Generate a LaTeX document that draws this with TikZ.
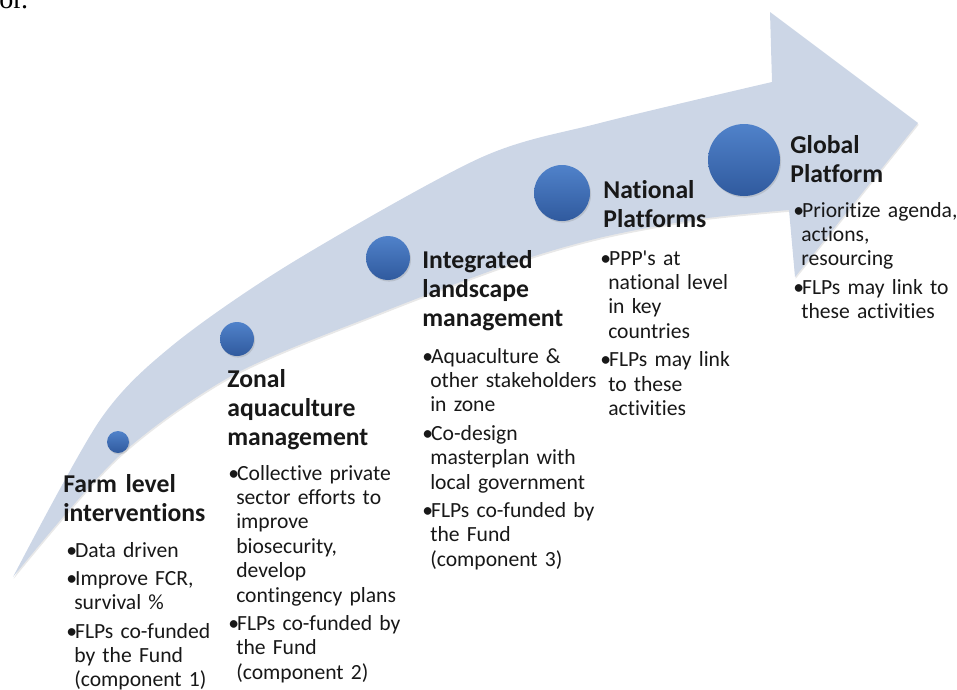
\documentclass[tikz,border=0pt]{standalone}
\usepackage{fontspec}
\setmainfont{Carlito}[Ligatures=NoCommon]
\newfontfamily\bodyserif{Liberation Serif}
\usetikzlibrary{shadows}

\definecolor{bandblue}{RGB}{204,214,230}
\definecolor{balltop}{RGB}{80,130,202}
\definecolor{ballbot}{RGB}{48,90,158}
\definecolor{ink}{RGB}{24,24,24}

% one bullet point with hanging indent, small gap after it
% (lines inside a point are broken with \newline)
\newcommand{\bitem}[1]{\hangindent=4.5pt\hangafter=1\noindent\makebox[5pt][l]{\textbullet}#1\par\vspace{2.2pt}}

\begin{document}
\begin{tikzpicture}[
        x=0.2mm, y=-0.2mm,
        ball/.style={circle, inner sep=0pt, draw=none, top color=balltop, bottom color=ballbot,
            drop shadow={opacity=0.25, shadow xshift=0.6pt, shadow yshift=-0.9pt}},
        stage/.style={anchor=base west, inner sep=0pt, text width=3.8cm, align=left,
            font=\fontsize{14.6}{16.5}\selectfont\bfseries, text=ink},
        points/.style={anchor=base west, inner sep=0pt, text width=3.8cm, align=left,
            font=\fontsize{12.3}{13.9}\selectfont, text=ink}
    ]
    \useasboundingbox (0,0) rectangle (957,689);

    % curved arrow
    \fill[bandblue, drop shadow={opacity=0.18, shadow xshift=0.4pt, shadow yshift=-1pt}]
        plot[smooth] coordinates {(13,577) (100,420) (173,345) (293,262) (480,158) (600,123) (772,82)}
        -- (770,12) -- (918,123) -- (795,277) -- (789,210)
        -- plot[smooth] coordinates {(789,210) (700,219) (603,237) (513,263) (380,313) (233,375) (118,457) (13,577)}
        -- cycle;

    % stage dots
    \node[ball, minimum size=4.4mm]  (farmdot)  at (118,442) {};
    \node[ball, minimum size=6.8mm]  (zonaldot) at (237,339) {};
    \node[ball, minimum size=8.8mm]  (landdot)  at (388,258) {};
    \node[ball, minimum size=11.2mm] (natdot)   at (562,193) {};
    \node[ball, minimum size=14.4mm] (globdot)  at (744,160) {};

    % stage titles and points
    \node[stage] (farmT) at (63,492) {Farm level\\interventions};
    \node[points] (farmP) at (66,557) {%
        \bitem{Data driven}
        \bitem{Improve FCR,\newline survival \%}
        \bitem{FLPs co-funded\newline by the Fund\newline (component 1)}};

    \node[stage] (zonalT) at (227,387) {Zonal\\aquaculture\\management};
    \node[points] (zonalP) at (228,480) {%
        \bitem{Collective private\newline sector efforts to\newline improve\newline biosecurity,\newline develop\newline contingency plans}
        \bitem{FLPs co-funded by\newline the Fund\newline (component 2)}};

    \node[stage] (landT) at (422,268) {Integrated\\landscape\\management};
    \node[points] (landP) at (422,363) {%
        \bitem{Aquaculture \&\newline other stakeholders\newline in zone}
        \bitem{Co-design\newline masterplan with\newline local government}
        \bitem{FLPs co-funded by\newline the Fund\newline (component 3)}};

    \node[stage] (natT) at (603,198) {National\\Platforms};
    \node[points] (natP) at (600,265) {%
        \bitem{PPP\textquotesingle s at\newline national level\newline in key\newline countries}
        \bitem{FLPs may link\newline to these\newline activities}};

    \node[stage] (globT) at (790,153) {Global\\Platform};
    \node[points] (globP) at (793,217) {%
        \bitem{Prioritize agenda,\newline actions,\newline resourcing}
        \bitem{FLPs may link to\newline these activities}};

    % running text cut off above
    \node[anchor=base west, inner sep=0pt, font=\bodyserif\fontsize{16}{18}\selectfont] (cutword) at (-1,8) {or.};
\end{tikzpicture}
\end{document}
